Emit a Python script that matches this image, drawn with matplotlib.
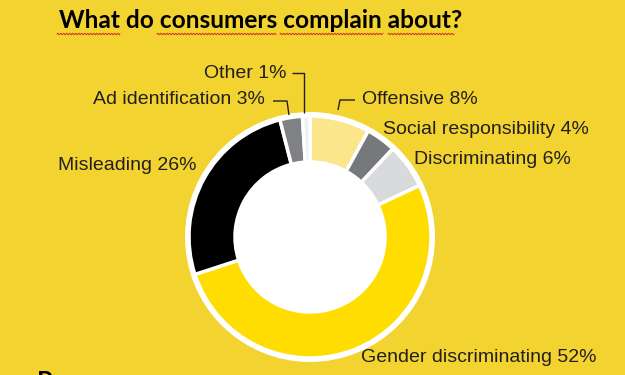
import matplotlib
matplotlib.use("Agg")
import numpy as np
import matplotlib.pyplot as plt
from matplotlib.patches import Circle

title = "What do consumers complain about?"
categories = ["Offensive", "Social responsibility", "Discriminating",
              "Gender discriminating", "Misleading", "Ad identification", "Other"]
values = [8, 4, 6, 52, 26, 3, 1]
colors = ["#FCE68C", "#77787B", "#D9DADB", "#FFDD00", "#000000", "#808184", "#EEF0F0"]

BG = "#F2D330"
W, H = 625, 375
fig = plt.figure(figsize=(W / 100, H / 100), dpi=100, facecolor=BG)
ax = fig.add_axes([0, 0, 1, 1])
ax.set_facecolor(BG)

cx, cy = 310, H - 237
ax.add_patch(Circle((cx, cy), 125, facecolor="white", edgecolor="none", zorder=0))
ax.pie(values, colors=colors, startangle=90, counterclock=False, center=(cx, cy),
       radius=121, frame=True,
       wedgeprops=dict(width=46, edgecolor="white", linewidth=2.5))
ax.add_patch(Circle((cx, cy), 76, facecolor="white", edgecolor="none", zorder=5))

ax.set_xlim(0, W)
ax.set_ylim(0, H)
ax.set_aspect("auto")
ax.axis("off")

font = dict(family="Liberation Sans", fontsize=14, color="#231F20", va="center")
labels = [f"{c} {v}%" for c, v in zip(categories, values)]
# label placements (pixel coords from top-left)
place = {
    "Offensive": (362, 100, "left"),
    "Social responsibility": (383, 130, "left"),
    "Discriminating": (414, 159, "left"),
    "Gender discriminating": (361, 357, "left"),
    "Misleading": (197, 165, "right"),
    "Ad identification": (265, 100, "right"),
    "Other": (286, 73, "right"),
}
for c, lab in zip(categories, labels):
    x, y, ha = place[c]
    ax.text(x, H - y, lab, ha=ha, **font)

# leader lines
lc = dict(color="#231F20", lw=1.0, solid_capstyle="butt")
ax.plot([292, 304, 304], [H - 73, H - 73, H - 113], **lc)
ax.plot([273, 287, 289], [H - 101, H - 101, H - 115], **lc)
ax.plot([355, 340, 338], [H - 100, H - 100, H - 110], **lc)

fig.text(0.5 * (58 + 463) / W, 1 - 20 / H, title, ha="center", va="center",
         fontsize=17.6, fontweight="bold", family="Lato", color="black")

# spell-check squiggles under title words
for x0, x1 in [(57, 120), (157, 276), (280, 383), (388, 454)]:
    xs = np.linspace(x0, x1, int((x1 - x0) * 2))
    ys = H - 34 + 0.8 * np.sin((xs - x0) * np.pi / 1.5)
    ax.plot(xs, ys, color="#D02020", lw=0.6)

fig.text(37 / W, -14 / H, "P", ha="left", va="baseline", fontsize=18,
         fontweight="bold", family="Lato", color="black")

fig.savefig("out.png", dpi=100, facecolor=BG)
